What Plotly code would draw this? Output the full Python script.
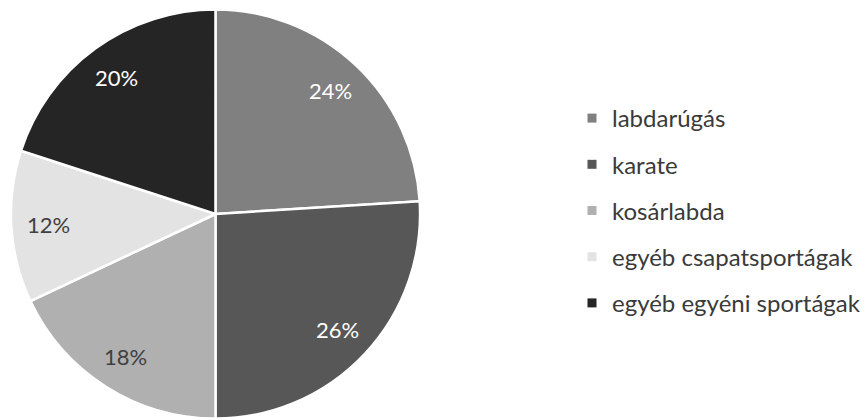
import math
import plotly.graph_objects as go

labels = ["labdarúgás", "karate", "kosárlabda", "egyéb csapatsportágak", "egyéb egyéni sportágak"]
values = [24, 26, 18, 12, 20]
colors = ["#808080", "#575757", "#b0b0b0", "#e3e3e3", "#252525"]
label_colors = ["#ffffff", "#ffffff", "#404040", "#404040", "#ffffff"]

W, H = 866, 420
cx_px, cy_px, R = 217, 214, 206
FONT = "Lato"

fig = go.Figure()
fig.add_trace(go.Pie(
    labels=labels, values=values, sort=False, direction="clockwise", rotation=0,
    marker=dict(colors=colors, line=dict(color="#ffffff", width=2.5)),
    textinfo="none", showlegend=False, hoverinfo="label+percent",
    domain=dict(x=[(cx_px - R) / W, (cx_px + R) / W],
                y=[1 - (cy_px + R) / H, 1 - (cy_px - R) / H]),
))

# legend entries as dummy traces so we can space them
for lab, col in zip(labels, colors):
    fig.add_trace(go.Scatter(x=[None], y=[None], mode="markers", name=lab,
                             legendgroup=lab,
                             marker=dict(symbol="square", size=9, color=col)))

# percentage labels, placed along each slice's mid-angle
total = sum(values)
cum = 0
for v, tc in zip(values, label_colors):
    mid = (cum + v / 2) / total * 2 * math.pi
    cum += v
    r = 0.82 * R
    x = cx_px + r * math.sin(mid)
    y = cy_px - r * math.cos(mid)
    fig.add_annotation(x=x / W, y=1 - y / H, xref="paper", yref="paper",
                       text=f"{round(v / total * 100)}%", showarrow=False,
                       font=dict(family=FONT, size=22, color=tc),
                       xanchor="center", yanchor="middle")

fig.update_layout(
    width=W, height=H,
    margin=dict(l=0, r=0, t=0, b=0),
    paper_bgcolor="#ffffff", plot_bgcolor="#ffffff",
    xaxis=dict(visible=False), yaxis=dict(visible=False),
    showlegend=True,
    legend=dict(x=576 / W, y=1 - 96 / H, xanchor="left", yanchor="top",
                font=dict(family=FONT, size=24, color="#3a3a3a"),
                tracegroupgap=12, itemwidth=30, bgcolor="rgba(0,0,0,0)"),
    font=dict(family=FONT),
)

fig.write_html("out.html")
